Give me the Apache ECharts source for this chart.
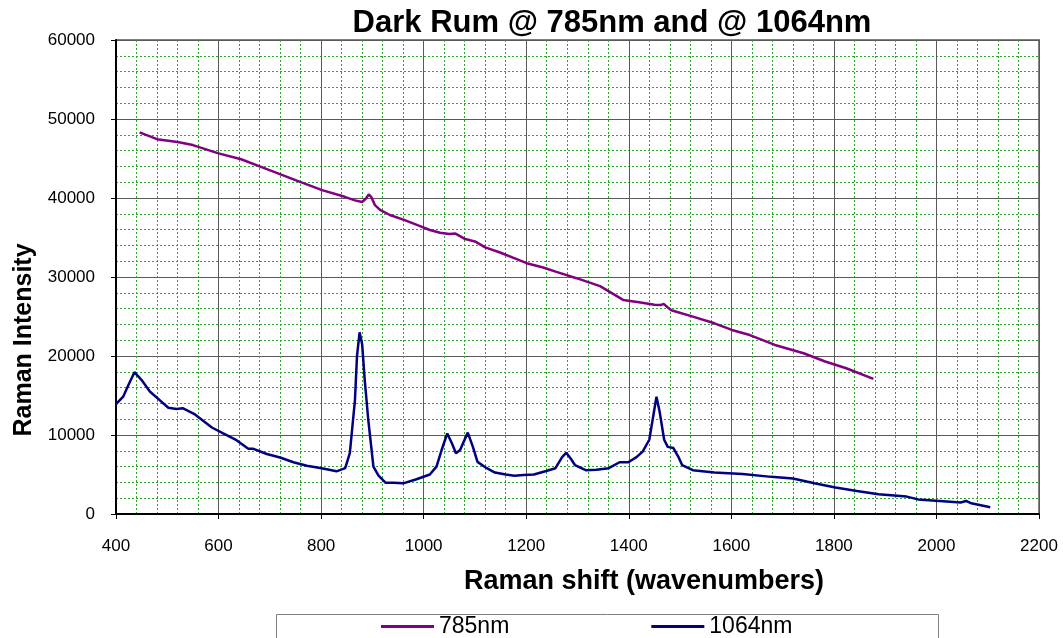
<!DOCTYPE html>
<html>
<head>
<meta charset="utf-8">
<script src="https://cdn.jsdelivr.net/npm/echarts@6/dist/echarts.min.js"></script>
<style>
  html, body { margin: 0; padding: 0; background: #fff; }
  #chart { width: 1063px; height: 638px; }
</style>
</head>
<body>
<div id="chart"></div>
<script>
// spectrum: [Raman shift, intensity]
var nm785 = [
  [446, 48300], [480, 47450], [520, 47100], [550, 46700], [600, 45650], [644, 44900],
  [698, 43550], [759, 42050], [802, 41000], [846, 40150], [866, 39700], [880, 39500],
  [887, 39900], [893, 40450], [898, 40100], [905, 39100], [915, 38500], [934, 37850],
  [963, 37200], [993, 36450], [1012, 35950], [1032, 35600], [1050, 35450], [1062, 35500],
  [1070, 35200], [1081, 34800], [1100, 34500], [1120, 33750], [1149, 33100], [1174, 32450],
  [1201, 31750], [1233, 31200], [1259, 30650], [1298, 29850], [1344, 28850], [1389, 27100],
  [1420, 26800], [1450, 26500], [1462, 26450], [1468, 26600], [1475, 26200], [1483, 25800],
  [1525, 24980], [1567, 24140], [1601, 23300], [1636, 22650], [1685, 21400], [1741, 20350],
  [1783, 19300], [1824, 18450], [1877, 17100]
];
var nm1064 = [
  [400, 13900], [414, 14850], [424, 16300], [436, 17950], [450, 16950], [466, 15500],
  [489, 14200], [502, 13450], [518, 13300], [530, 13400], [554, 12600], [587, 10950],
  [609, 10200], [635, 9350], [658, 8250], [668, 8250], [694, 7600], [720, 7150],
  [746, 6550], [772, 6100], [801, 5800], [830, 5400], [847, 5800], [856, 7700],
  [866, 14400], [870, 20000], [875, 23000], [880, 21500], [885, 17000], [892, 11900],
  [902, 6000], [912, 4850], [926, 3950], [941, 3950], [960, 3880], [986, 4400],
  [1012, 5000], [1025, 6000], [1035, 8100], [1046, 10200], [1055, 8950], [1063, 7700],
  [1071, 8100], [1086, 10300], [1096, 8500], [1105, 6600], [1123, 5800], [1139, 5250],
  [1160, 5000], [1177, 4850], [1195, 4950], [1215, 5000], [1239, 5450], [1257, 5800],
  [1270, 7200], [1278, 7750], [1287, 7000], [1295, 6200], [1316, 5550], [1337, 5600],
  [1361, 5800], [1382, 6550], [1399, 6550], [1415, 7200], [1427, 7900], [1440, 9400],
  [1448, 12500], [1454, 14850], [1460, 13000], [1469, 9400], [1476, 8500], [1487, 8350],
  [1497, 7200], [1504, 6200], [1525, 5550], [1567, 5250], [1622, 5050], [1678, 4700],
  [1720, 4500], [1762, 3900], [1803, 3350], [1845, 2900], [1887, 2500], [1942, 2200],
  [1964, 1850], [2006, 1650], [2047, 1450], [2058, 1650], [2068, 1350], [2105, 850]
];
var seriesNames = ['785nm', '1064nm'];
var seriesColors = ['#800080', '#000080'];

var myChart = echarts.init(document.getElementById('chart'));
var font = "'Liberation Sans', Arial, sans-serif";
var plain = function (v) { return String(v); };

var option = {
    animation: false,
    backgroundColor: '#fff',
    textStyle: { fontFamily: font, color: '#000' },
    grid: {
        left: 116,
        right: 24,
        top: 40,
        bottom: 124,
        show: true,
        borderColor: '#808080',
        borderWidth: 2
    },
    legend: {
        left: 381,
        top: 615,
        padding: 0,
        itemGap: 142,
        itemWidth: 53,
        itemHeight: 3,
        icon: 'rect',
        textStyle: { fontSize: 23, color: '#000', fontFamily: font },
        data: seriesNames
    },
    xAxis: {
        type: 'value',
        min: 400,
        max: 2200,
        interval: 200,
        axisLine: { onZero: false, lineStyle: { color: '#000', width: 2 } },
        axisTick: { show: true, length: 5, lineStyle: { color: '#000', width: 1 } },
        axisLabel: { fontSize: 17, color: '#000', margin: 24, fontFamily: font, formatter: plain },
        splitLine: { show: true, lineStyle: { color: '#5a5a5a', width: 1 } },
        minorTick: { show: false, splitNumber: 5 },
        minorSplitLine: { show: true, lineStyle: { color: '#2ca82c', width: 1, type: [2, 2] } }
    },
    yAxis: {
        type: 'value',
        min: 0,
        max: 60000,
        interval: 10000,
        axisLine: { show: true, onZero: false, lineStyle: { color: '#000', width: 2 } },
        axisTick: { show: true, length: 5, lineStyle: { color: '#000', width: 1 } },
        axisLabel: { fontSize: 17, color: '#000', margin: 21, fontFamily: font, formatter: plain },
        splitLine: { show: true, lineStyle: { color: '#5a5a5a', width: 1 } },
        minorTick: { show: false, splitNumber: 5 },
        minorSplitLine: { show: true, lineStyle: { color: '#2ca82c', width: 1, type: [2, 2] } }
    },
    graphic: [
        {
            type: 'text', x: 612, y: 23,
            style: {
                text: 'Dark Rum @ 785nm and @ 1064nm', fill: '#000',
                font: 'bold 31px ' + font,
                align: 'center', verticalAlign: 'middle',
                textAlign: 'center', textVerticalAlign: 'middle'
            }
        },
        {
            type: 'text', x: 644, y: 582,
            style: {
                text: 'Raman shift (wavenumbers)', fill: '#000',
                font: 'bold 27px ' + font,
                align: 'center', verticalAlign: 'middle',
                textAlign: 'center', textVerticalAlign: 'middle'
            }
        },
        {
            type: 'text', x: 24, y: 340, rotation: Math.PI / 2,
            style: {
                text: 'Raman Intensity', fill: '#000',
                font: 'bold 25px ' + font,
                align: 'center', verticalAlign: 'middle',
                textAlign: 'center', textVerticalAlign: 'middle'
            }
        },
        {
            type: 'rect', z: -1,
            shape: { x: 276.5, y: 614.5, width: 662, height: 40 },
            style: { fill: '#fff', stroke: '#808080', lineWidth: 1 }
        }
    ],
    series: [
        {
            name: seriesNames[0],
            type: 'line',
            data: nm785,
            showSymbol: false,
            color: seriesColors[0],
            lineStyle: { width: 2.5 }
        },
        {
            name: seriesNames[1],
            type: 'line',
            data: nm1064,
            showSymbol: false,
            color: seriesColors[1],
            lineStyle: { width: 2.5 }
        }
    ]
};
myChart.setOption(option);
</script>
</body>
</html>
